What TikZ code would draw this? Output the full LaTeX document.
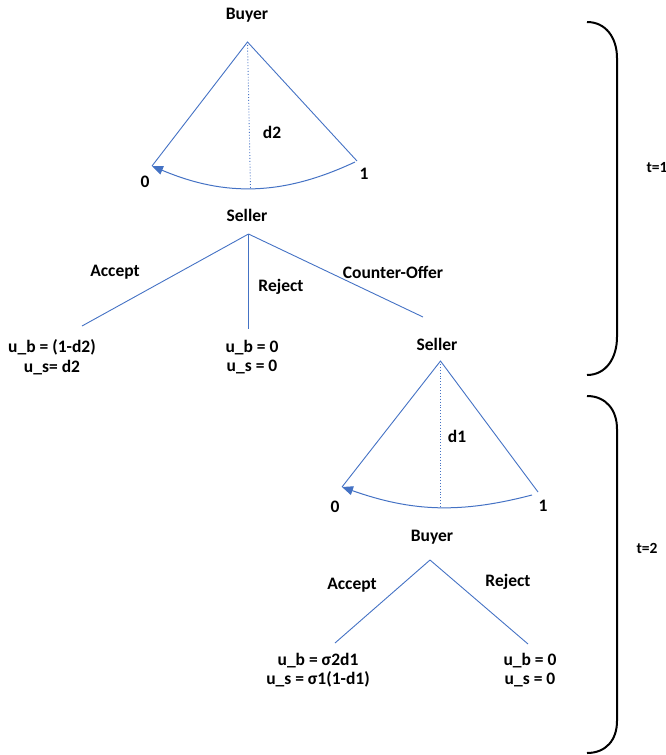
\documentclass[tikz,border=0pt]{standalone}
\usepackage{fontspec}
\setmainfont{Carlito}
\usetikzlibrary{arrows.meta}
\definecolor{edgeblue}{HTML}{4472C4}
\begin{document}
\begin{tikzpicture}[x=1pt,y=-1pt,
  lbl/.style={font=\bfseries\fontsize{17.5}{19.5}\selectfont, inner sep=0pt, align=center},
  tlbl/.style={font=\bfseries\fontsize{15.5}{17}\selectfont, inner sep=0pt},
  edge/.style={draw=edgeblue, line width=0.9pt},
  axisline/.style={draw=edgeblue, line width=0.9pt, dotted},
  offerarc/.style={draw=edgeblue, line width=1pt, -{Triangle[length=11pt,width=9pt]}},
  bracket/.style={draw=black, line width=2pt}]
\useasboundingbox (0,0) rectangle (666,755);

% ---- t = 1: buyer proposes a split ----
\node[lbl] (buyerA) at (247,15) {Buyer};
\coordinate (apexA) at (247.5,42);
\coordinate (leftA) at (152,166);
\coordinate (rightA) at (357,161);
\coordinate (arcA) at (355,162);
\coordinate (footA) at (250.5,189);
\draw[edge] (leftA) -- (apexA) -- (rightA);
\draw[axisline] (apexA) -- (footA);
\draw[offerarc] (arcA) to[bend left=24] (leftA);
\node[lbl] (dA) at (272,132) {d2};
\node[lbl] (zeroA) at (145,182) {0};
\node[lbl] (oneA) at (364,174) {1};

% ---- seller responds ----
\node[lbl] (sellerA) at (247,215) {Seller};
\coordinate (rootB) at (248.5,234);
\coordinate (acceptEnd) at (82,326);
\coordinate (rejectEnd) at (248.5,329);
\coordinate (counterEnd) at (423,317);
\draw[edge] (rootB) -- (acceptEnd);
\draw[edge] (rootB) -- (rejectEnd);
\draw[edge] (rootB) -- (counterEnd);
\node[lbl] (acceptA) at (115,272) {Accept};
\node[lbl] (rejectA) at (281,287) {Reject};
\node[lbl] (counterA) at (393,272) {Counter-Offer};
\node[lbl] (leafA) at (52,357) {u\_b = (1-d2)\\u\_s= d2};
\node[lbl] (leafB) at (252,357) {u\_b = 0\\u\_s = 0};

% ---- t = 2: seller proposes a split ----
\node[lbl] (sellerB) at (437,344) {Seller};
\coordinate (apexB) at (440.5,361);
\coordinate (leftB) at (342,487);
\coordinate (rightB) at (538,492);
\coordinate (arcB) at (532,495);
\coordinate (footB) at (440.5,507);
\draw[edge] (leftB) -- (apexB) -- (rightB);
\draw[axisline] (apexB) -- (footB);
\draw[offerarc] (arcB) to[bend left=17] (leftB);
\node[lbl] (dB) at (457,436) {d1};
\node[lbl] (zeroB) at (335,507) {0};
\node[lbl] (oneB) at (543,506) {1};

% ---- buyer responds ----
\node[lbl] (buyerB) at (432,537) {Buyer};
\coordinate (rootC) at (430,560);
\coordinate (acceptEndB) at (335,643);
\coordinate (rejectEndB) at (528,644);
\draw[edge] (rootC) -- (acceptEndB);
\draw[edge] (rootC) -- (rejectEndB);
\node[lbl] (acceptB) at (352,585) {Accept};
\node[lbl] (rejectB) at (508,582) {Reject};
\node[lbl] (leafC) at (318,670) {u\_b = σ2d1\\u\_s = σ1(1-d1)};
\node[lbl] (leafD) at (530,670) {u\_b = 0\\u\_s = 0};

% ---- period brackets ----
\draw[bracket] (587,22) .. controls (606,22) and (617,38) .. (617,58)
  -- (617,337) .. controls (617,358) and (606,375) .. (587,375);
\draw[bracket] (587,396) .. controls (606,396) and (617,410) .. (617,429)
  -- (617,721) .. controls (617,740) and (606,753) .. (587,753);
\node[tlbl] (tOne) at (657,168) {t=1};
\node[tlbl] (tTwo) at (647,548) {t=2};
\end{tikzpicture}
\end{document}
